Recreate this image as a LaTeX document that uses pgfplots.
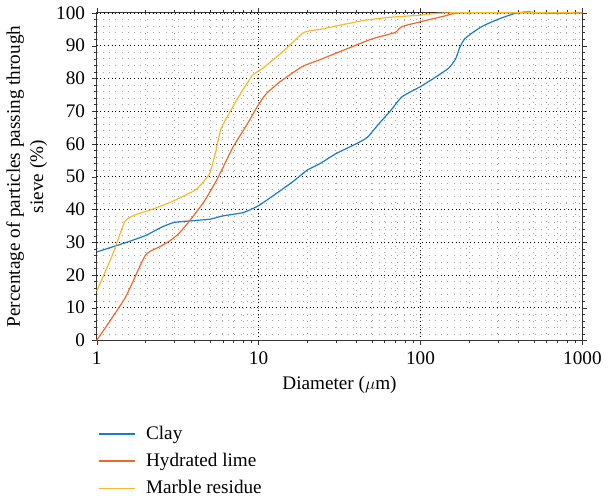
\documentclass[border=0pt]{standalone}
\usepackage{pgfplots}
\pgfplotsset{compat=1.18}
\usepackage{fontspec}
\setmainfont{Liberation Serif}
\definecolor{cblue}{RGB}{25,125,200}
\definecolor{corange}{RGB}{240,105,40}
\definecolor{cyellow}{RGB}{250,185,45}
\begin{document}
\fontsize{19}{23}\selectfont
\begin{tikzpicture}
\begin{semilogxaxis}[
  scale only axis,
  width=479bp, height=323bp,
  xmin=1, xmax=1000, ymin=0, ymax=100,
  ytick={0,10,...,100},
  minor y tick num=4,
  xtick={1,10,100,1000},
  xticklabels={1,10,100,1000},
  /pgf/number format/assume math mode=true,
  tick label style={font=\fontsize{19}{23}\selectfont},
  label style={font=\fontsize{19}{23}\selectfont},
  grid=both,
  major grid style={black, line width=0.6pt, dash pattern=on 0.7pt off 3pt},
  minor grid style={gray!70, line width=0.6pt, dash pattern=on 0.7pt off 5.5pt},
  axis line style={black!80, line width=0.9pt},
  tick style={black!80},
  major tick length=5pt, minor tick length=2.5pt,
  tick align=outside,
  xlabel={Diameter ($\mu$m)},
  xlabel style={yshift=2pt},
  ylabel={Percentage of particles passing through\\sieve (\%)},
  ylabel style={align=center, yshift=-4pt},
  legend style={draw=none, fill=none, at={(0,0)}, anchor=north west, yshift=-80bp, xshift=-2bp,
    font=\fontsize{19}{23}\selectfont, row sep=7bp, column sep=8bp, cells={anchor=west}},
  legend cell align=left,
  legend image code/.code={\draw[#1, line width=1.6pt] (0bp,0bp) -- (36bp,0bp);},
  every axis plot/.append style={line width=1.2pt},
  clip=false,
]
\addplot[cblue, smooth, tension=0.3] coordinates {
(1,27) (1.5,29.8) (2,32) (2.5,34.5) (3,36) (4,36.6) (5,37) (6,38) (8,39) (9.25,40.3) (10.2,41.4) (13,45) (16.4,48.6) (20,52) (24,54) (30,57) (40,60) (47,62) (55,66) (65,70) (77,74.4) (100,77.5) (125,80.5) (150,83.2) (165,86) (175,89.5) (187,92) (210,94) (243,96) (300,98) (375,99.7) (450,100.3) (550,100) (1000,100)
};
\addlegendentry{Clay}
\addplot[corange, smooth, tension=0.3] coordinates {
(1,0) (1.5,13) (2,26) (2.5,28.8) (2.85,30.5) (3.2,32.5) (3.71,36.2) (4.61,42.4) (5.59,49.5) (6.93,58.9) (8.5,66) (9.94,71.8) (11.2,75.4) (13.6,79) (18.6,83.6) (24.2,85.8) (32.3,88.3) (49.8,92) (69.6,94) (76.7,95.8) (100,97.3) (140,99) (182,100) (1000,100)
};
\addlegendentry{Hydrated lime}
\addplot[cyellow, smooth, tension=0.3] coordinates {
(1,15) (1.25,26) (1.49,36.2) (1.72,38.3) (2.2,40) (2.92,42.4) (4.09,46) (4.95,50.6) (5.2,54) (5.46,57.9) (5.86,64.6) (6.93,71.3) (8,76.5) (9.25,81.1) (10.7,83.2) (14,88) (19,94) (24.2,95) (32.3,96.3) (45,97.7) (63,98.6) (100,99.3) (150,100) (1000,100)
};
\addlegendentry{Marble residue}
\end{semilogxaxis}
\end{tikzpicture}
\end{document}
